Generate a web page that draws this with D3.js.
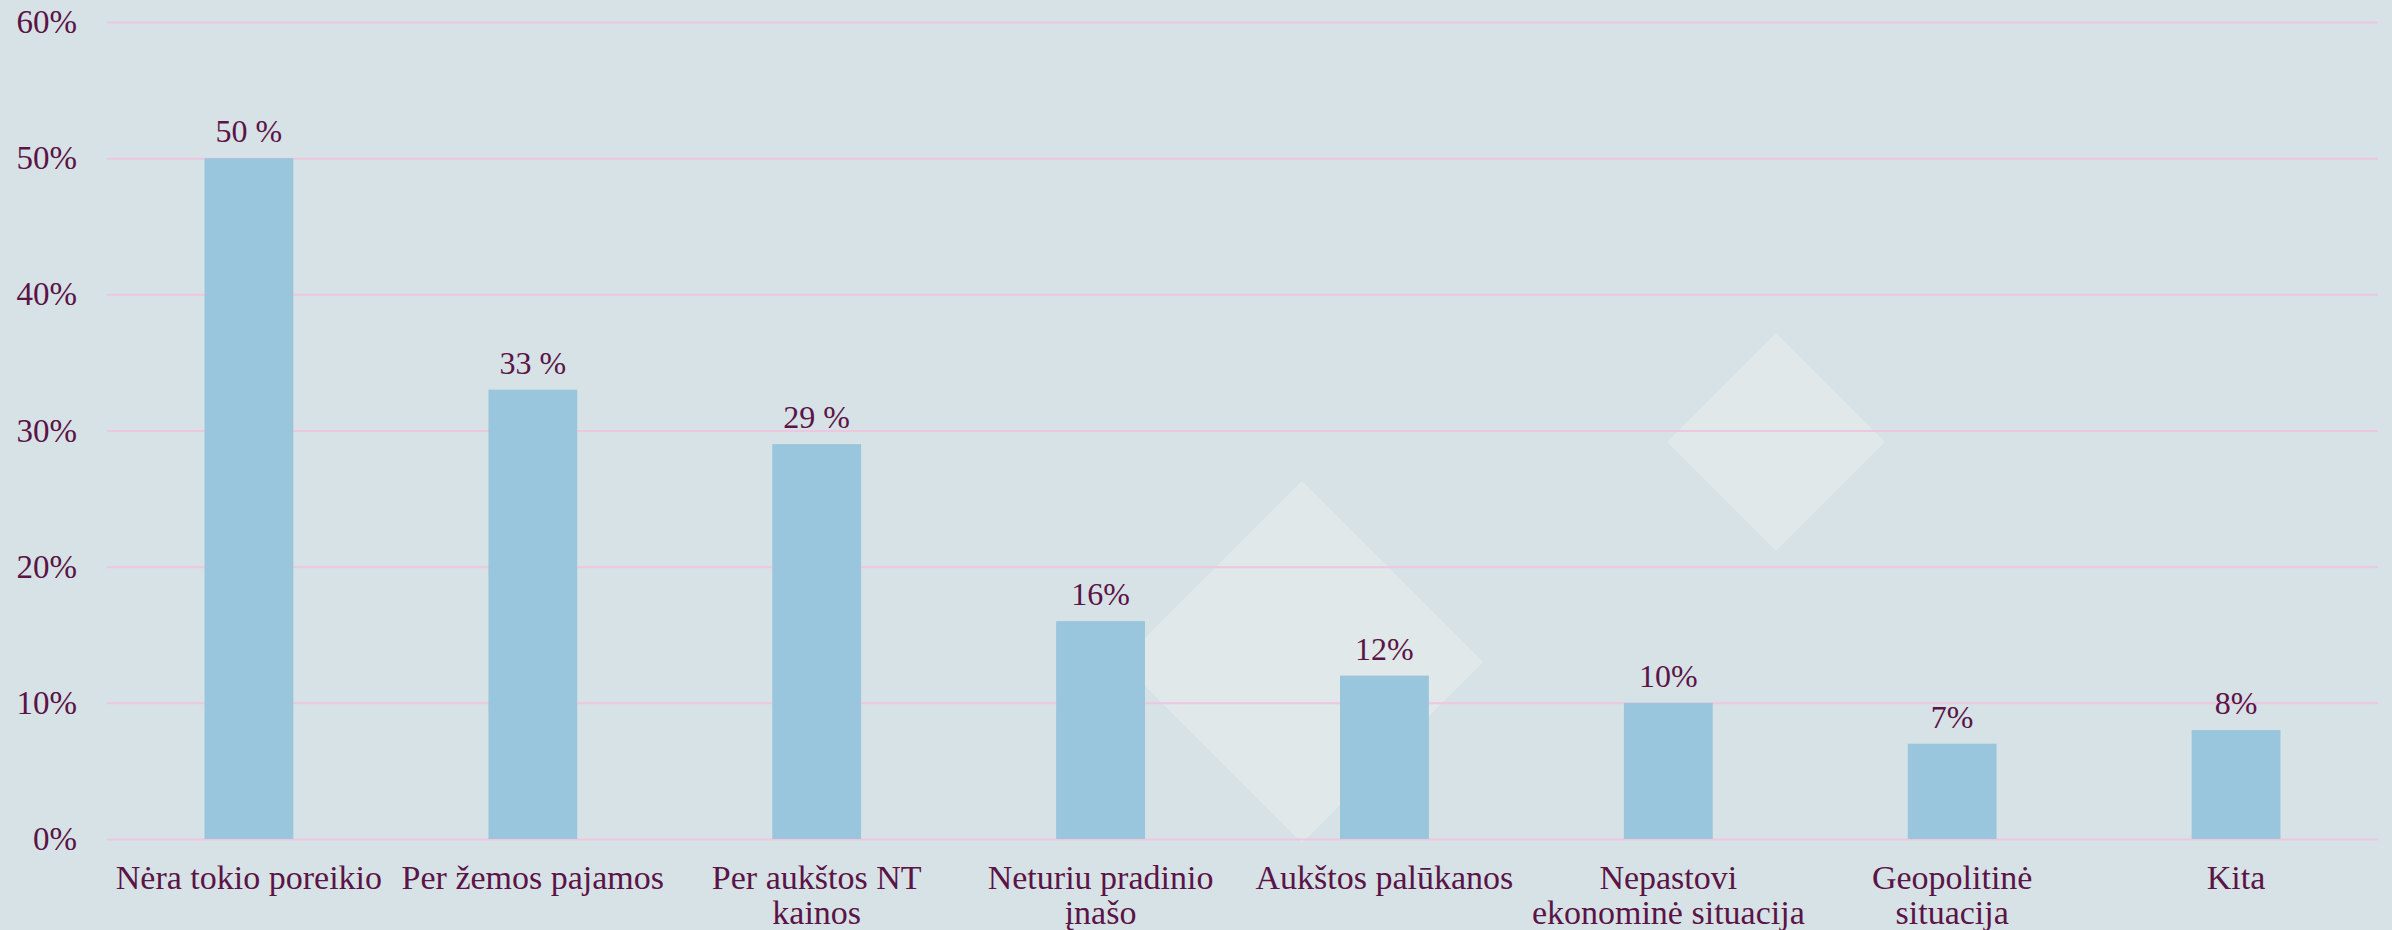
<!DOCTYPE html>
<html>
<head>
<meta charset="utf-8">
<script src="https://cdn.jsdelivr.net/npm/d3@7"></script>
<style>
html,body{margin:0;padding:0;background:#d7e2e7;}
svg{display:block;}
</style>
</head>
<body>
<svg id="chart" width="2392" height="930"></svg>
<script>
const categories = [
  "Nėra tokio poreikio",
  "Per žemos pajamos",
  "Per aukštos NT\nkainos",
  "Neturiu pradinio\nįnašo",
  "Aukštos palūkanos",
  "Nepastovi\nekonominė situacija",
  "Geopolitinė\nsituacija",
  "Kita"
];
const values = [50, 33, 29, 16, 12, 10, 7, 8];
const valueLabels = ["50 %", "33 %", "29 %", "16%", "12%", "10%", "7%", "8%"];
const yTicks = [0, 10, 20, 30, 40, 50, 60];

const W = 2392, H = 930;
const margin = {left: 107, right: 14, top: 22, bottom: 91};
const svg = d3.select("#chart");
const textColor = "#5b1446";

svg.append("rect").attr("width", W).attr("height", H).attr("fill", "#d7e2e7");

const x = d3.scaleBand()
  .domain(categories)
  .range([margin.left, W - margin.right])
  .paddingInner(0.687)
  .paddingOuter(0.3435);
const y = d3.scaleLinear().domain([0, 60]).range([H - margin.bottom, margin.top]);

// decorative diamonds
const deco = [
  {cx: 1302, cy: 662, r: 181},
  {cx: 1776, cy: 442, r: 109}
];
svg.append("g").selectAll("path").data(deco).join("path")
  .attr("d", d => `M${d.cx},${d.cy - d.r}L${d.cx + d.r},${d.cy}L${d.cx},${d.cy + d.r}L${d.cx - d.r},${d.cy}Z`)
  .attr("fill", "#e0e8ea");

// grid
const grid = svg.append("g")
  .attr("transform", `translate(${margin.left},0)`)
  .call(d3.axisLeft(y).tickValues(yTicks).tickSize(-(W - margin.left - margin.right)).tickFormat(""));
grid.select(".domain").remove();
grid.selectAll(".tick line").attr("stroke", "#eec6e0").attr("stroke-width", 2);

// y labels
const yAxis = svg.append("g")
  .attr("transform", `translate(${margin.left},0)`)
  .call(d3.axisLeft(y).tickValues(yTicks).tickSize(0).tickPadding(30).tickFormat(d => d + "%"));
yAxis.select(".domain").remove();
yAxis.selectAll("text")
  .attr("fill", textColor)
  .style("font-family", "'Liberation Serif', serif")
  .style("font-size", "33px");

// bars
svg.append("g").selectAll("rect").data(values).join("rect")
  .attr("x", (d, i) => x(categories[i]))
  .attr("y", d => y(d))
  .attr("width", x.bandwidth())
  .attr("height", d => y(0) - y(d))
  .attr("fill", "#9ac6dd");

// value labels
svg.append("g").selectAll("text").data(values).join("text")
  .attr("x", (d, i) => x(categories[i]) + x.bandwidth() / 2)
  .attr("y", d => y(d) - 16)
  .attr("text-anchor", "middle")
  .attr("fill", textColor)
  .style("font-family", "'Liberation Serif', serif")
  .style("font-size", "32px")
  .text((d, i) => valueLabels[i]);

// x labels
const xl = svg.append("g").selectAll("text").data(categories).join("text")
  .attr("x", d => x(d) + x.bandwidth() / 2)
  .attr("y", 889)
  .attr("text-anchor", "middle")
  .attr("fill", textColor)
  .style("font-family", "'Liberation Serif', serif")
  .style("font-size", "34px");
xl.each(function(d) {
  const t = d3.select(this);
  const cx = t.attr("x");
  d.split("\n").forEach((line, i) => {
    t.append("tspan").attr("x", cx).attr("dy", i === 0 ? 0 : 35).text(line);
  });
});
</script>
</body>
</html>
